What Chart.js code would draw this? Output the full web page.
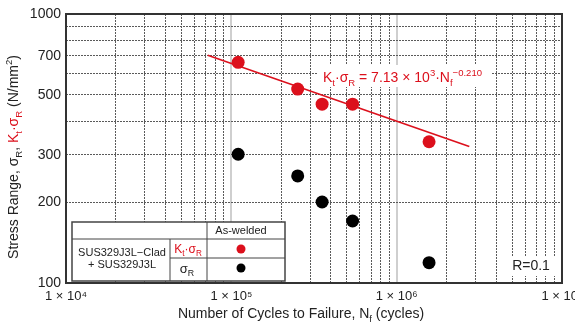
<!DOCTYPE html>
<html>
<head>
<meta charset="utf-8">
<script src="https://cdn.jsdelivr.net/npm/chart.js@4.4.1/dist/chart.umd.min.js"></script>
<style>
  html, body { margin: 0; padding: 0; background: #fff; }
  canvas { display: block; }
</style>
</head>
<body>
<canvas id="snChart" width="575" height="328"></canvas>
<script>
// S-N data (cycles to failure / stress range in N/mm2)
const cycles = [1.10e5, 2.52e5, 3.54e5, 5.41e5, 1.57e6];
const ktStress = [661, 526, 462, 462, 335];   // Kt * sigmaR (red)
const stress = [301, 250, 200, 170, 119];     // sigmaR (black)

// fitted line end points: Kt*sigmaR = 7.13e3 * Nf^-0.210
const fitCycles = [7.2e4, 2.75e6];
const fitStress = [702, 322];

// axis ticks
const xDecades = [1e4, 1e5, 1e6, 1e7];
const xMinorSteps = [1, 2, 3, 4, 5, 6, 7, 8, 9];
const yTicks = [100, 200, 300, 400, 500, 600, 700, 800, 900, 1000];
const yLabels = [100, 200, 300, 500, 700, 1000];

const RED = '#dc101c';
const INK = '#222';
const FONT = '"Liberation Sans", Arial, sans-serif';
const SUP = { 4: '\u2074', 5: '\u2075', 6: '\u2076', 7: '\u2077' };

const isDecade = v => xDecades.some(d => Math.abs(v - d) / d < 1e-6);

const xTickValues = [];
xDecades.slice(0, -1).forEach(d => xMinorSteps.forEach(s => xTickValues.push(d * s)));
xTickValues.push(xDecades[xDecades.length - 1]);

// draw a run of text pieces with sub / superscripts
function drawRuns(ctx, runs, x, y, size, align) {
    const fontFor = mode => (mode ? size * 0.68 : size) + 'px ' + FONT;
    let total = 0;
    runs.forEach(r => {
        ctx.font = fontFor(r[2]);
        total += ctx.measureText(r[0]).width;
    });
    let cx = align === 'center' ? x - total / 2 : x;
    ctx.textAlign = 'left';
    ctx.textBaseline = 'alphabetic';
    runs.forEach(r => {
        ctx.font = fontFor(r[2]);
        ctx.fillStyle = r[1];
        let dy = 0;
        if (r[2] === 'sub') dy = size * 0.25;
        if (r[2] === 'sup') dy = -size * 0.42;
        ctx.fillText(r[0], cx, y + dy);
        cx += ctx.measureText(r[0]).width;
    });
    return total;
}

const overlayPlugin = {
    id: 'overlay',
    afterDraw(chart) {
        const ctx = chart.ctx;
        const a = chart.chartArea;
        ctx.save();

        // plot frame
        ctx.strokeStyle = '#333';
        ctx.lineWidth = 2;
        ctx.strokeRect(a.left, a.top, a.right - a.left, a.bottom - a.top);

        // equation
        ctx.fillStyle = '#fff';
        ctx.fillRect(318, 65, 174, 22);
        drawRuns(ctx, [
            ['K', RED], ['t', RED, 'sub'], ['\u00b7\u03c3', RED], ['R', RED, 'sub'],
            [' = 7.13 \u00d7 10', RED], ['3', RED, 'sup'], ['\u00b7N', RED], ['f', RED, 'sub'],
            ['\u22120.210', RED, 'sup']
        ], 323, 82, 14, 'left');

        // R=0.1
        ctx.fillStyle = '#fff';
        ctx.fillRect(506, 256, 50, 20);
        ctx.font = '14px ' + FONT;
        ctx.fillStyle = INK;
        ctx.textAlign = 'center';
        ctx.textBaseline = 'middle';
        ctx.fillText('R=0.1', 531, 266);

        // legend table
        const cx = [72, 170, 207, 285];
        const cy = [222, 239, 258, 281];
        ctx.fillStyle = '#fff';
        ctx.fillRect(cx[0], cy[0], cx[3] - cx[0], cy[3] - cy[0]);
        ctx.strokeStyle = '#444';
        ctx.lineWidth = 1;
        ctx.beginPath();
        ctx.moveTo(cx[0], cy[1]); ctx.lineTo(cx[3], cy[1]);
        ctx.moveTo(cx[1], cy[2]); ctx.lineTo(cx[3], cy[2]);
        ctx.moveTo(cx[1], cy[1]); ctx.lineTo(cx[1], cy[3]);
        ctx.moveTo(cx[2], cy[0]); ctx.lineTo(cx[2], cy[3]);
        ctx.stroke();
        ctx.lineWidth = 1.5;
        ctx.strokeRect(cx[0], cy[0], cx[3] - cx[0], cy[3] - cy[0]);

        ctx.font = '11px ' + FONT;
        ctx.fillStyle = INK;
        ctx.textAlign = 'center';
        ctx.textBaseline = 'middle';
        ctx.fillText('As-welded', 241, 231);
        ctx.fillText('SUS329J3L\u2212Clad', 122, 253);
        ctx.fillText('+ SUS329J3L', 122, 265);
        drawRuns(ctx, [['K', RED], ['t', RED, 'sub'], ['\u00b7\u03c3', RED], ['R', RED, 'sub']], 188, 253, 12, 'center');
        drawRuns(ctx, [['\u03c3', INK], ['R', INK, 'sub']], 187, 273, 13, 'center');

        ctx.fillStyle = RED;
        ctx.beginPath(); ctx.arc(241, 249, 4.5, 0, Math.PI * 2); ctx.fill();
        ctx.fillStyle = '#000';
        ctx.beginPath(); ctx.arc(241, 268, 4.5, 0, Math.PI * 2); ctx.fill();

        // x axis title
        drawRuns(ctx, [
            ['Number of Cycles to Failure, N', INK], ['f', INK, 'sub'], [' (cycles)', INK]
        ], 301, 318, 14, 'center');

        // y axis title (rotated)
        ctx.translate(13, 157);
        ctx.rotate(-Math.PI / 2);
        drawRuns(ctx, [
            ['Stress Range, \u03c3', INK], ['R', INK, 'sub'], [', ', INK],
            ['K', RED], ['t', RED, 'sub'], ['\u00b7\u03c3', RED], ['R', RED, 'sub'],
            [' (N/mm', INK], ['2', INK, 'sup'], [')', INK]
        ], 0, 5, 14, 'center');

        ctx.restore();
    }
};

new Chart(document.getElementById('snChart'), {
    type: 'scatter',
    data: {
        datasets: [
            {
                type: 'line',
                label: 'fit',
                data: fitCycles.map((c, i) => ({ x: c, y: fitStress[i] })),
                borderColor: RED,
                borderWidth: 1.6,
                pointRadius: 0,
                fill: false,
                order: 2
            },
            {
                label: 'Kt*sigmaR',
                data: cycles.map((c, i) => ({ x: c, y: ktStress[i] })),
                backgroundColor: RED,
                borderWidth: 0,
                pointRadius: 6.5,
                order: 1
            },
            {
                label: 'sigmaR',
                data: cycles.map((c, i) => ({ x: c, y: stress[i] })),
                backgroundColor: '#000',
                borderWidth: 0,
                pointRadius: 6.5,
                order: 1
            }
        ]
    },
    options: {
        responsive: false,
        animation: false,
        devicePixelRatio: 1,
        layout: { padding: { top: 14, right: 13, left: 0, bottom: 0 } },
        scales: {
            x: {
                type: 'logarithmic',
                min: 1e4,
                max: 1e7,
                afterBuildTicks: scale => {
                    scale.ticks = xTickValues.map(v => ({ value: v }));
                },
                afterFit: scale => {
                    scale.height = 45;
                    scale.paddingLeft = 0;
                    scale.paddingRight = 0;
                },
                ticks: {
                    autoSkip: false,
                    maxRotation: 0,
                    padding: 6,
                    color: INK,
                    font: { family: FONT, size: 13 },
                    callback: v => isDecade(v) ? '1 \u00d7 10' + SUP[Math.round(Math.log10(v))] : ''
                },
                grid: {
                    drawTicks: false,
                    color: ctx => isDecade(ctx.tick.value) ? '#cfcfcf' : '#5a5a5a',
                    lineWidth: ctx => isDecade(ctx.tick.value) ? 2 : 1
                },
                border: {
                    display: false,
                    dash: ctx => (ctx.tick && isDecade(ctx.tick.value)) ? [] : [2, 1]
                }
            },
            y: {
                type: 'logarithmic',
                min: 100,
                max: 1000,
                afterBuildTicks: scale => {
                    scale.ticks = yTicks.map(v => ({ value: v }));
                },
                afterFit: scale => {
                    scale.width = 66;
                    scale.paddingTop = 0;
                    scale.paddingBottom = 0;
                },
                ticks: {
                    autoSkip: false,
                    padding: 5,
                    color: INK,
                    font: { family: FONT, size: 14 },
                    callback: v => yLabels.includes(Math.round(v)) ? String(Math.round(v)) : ''
                },
                grid: {
                    drawTicks: false,
                    color: '#5a5a5a',
                    lineWidth: 1
                },
                border: {
                    display: false,
                    dash: [2, 1]
                }
            }
        },
        plugins: {
            legend: { display: false },
            tooltip: { enabled: false }
        }
    },
    plugins: [overlayPlugin]
});
</script>
</body>
</html>
